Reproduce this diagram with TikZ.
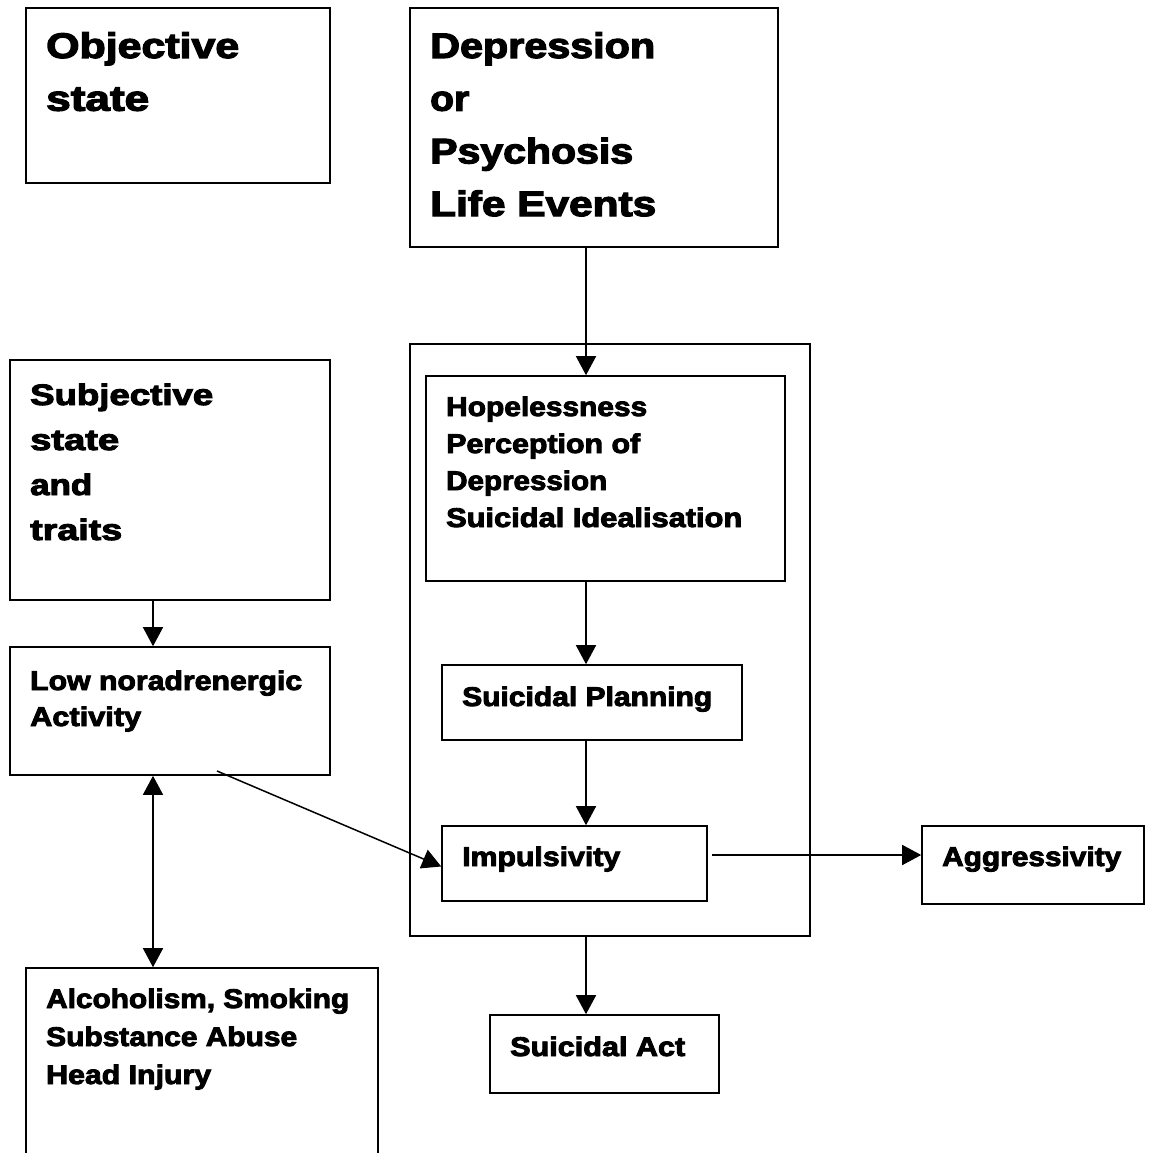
\documentclass[tikz,border=0pt]{standalone}
\usepackage{fontspec}
\usepackage{graphicx}
\newfontfamily\blk{Liberation Sans Bold}[FakeBold=3.2]
\usetikzlibrary{arrows.meta,calc}
\newcommand\fw[2]{\hbox{\resizebox{#1pt}{\height}{#2}}}
\begin{document}
\begin{tikzpicture}[x=1pt,y=-1pt,
  box/.style={draw,line width=1.6pt,rectangle,inner sep=0pt},
  txt/.style={inner sep=0pt,anchor=base west,align=left},
  big/.style={font=\blk\fontsize{35.5}{52.7}\selectfont},
  mid/.style={font=\blk\fontsize{29.5}{45}\selectfont},
  sml/.style={font=\blk\fontsize{27}{37}\selectfont},
  arr/.style={line width=1.5pt,-{Triangle[length=19pt,width=20pt]}},
  darr/.style={line width=1.5pt,{Triangle[length=19pt,width=20pt]}-{Triangle[length=19pt,width=20pt]}}]
\useasboundingbox (0,0) rectangle (1150,1153);
\fill[white] (0,0) rectangle (1150,1153);
% boxes
\node[box,minimum width=304pt,minimum height=175pt] (obj) at (178,95.5) {};
\node[box,minimum width=368pt,minimum height=239pt] (dep) at (594,127.5) {};
\node[box,minimum width=400pt,minimum height=592pt] (outer) at (610,640) {};
\node[box,minimum width=359pt,minimum height=205pt] (hope) at (605.5,478.5) {};
\node[box,minimum width=320pt,minimum height=240pt] (subj) at (170,480) {};
\node[box,minimum width=320pt,minimum height=128pt] (low) at (170,711) {};
\node[box,minimum width=300pt,minimum height=75pt] (plan) at (592,702.5) {};
\node[box,minimum width=265pt,minimum height=75pt] (imp) at (574.5,863.5) {};
\node[box,minimum width=222pt,minimum height=78pt] (agg) at (1033,865) {};
\node[box,minimum width=229pt,minimum height=78pt] (act) at (604.5,1054) {};
\node[box,minimum width=352pt,minimum height=200pt] (alc) at (202,1068) {};
% texts
\node[txt,big] (objT) at (46,58) {\vtop{\baselineskip=52.7pt \fw{193}{Objective}\fw{103}{state}}};
\node[txt,big] (depT) at (430,58) {\vtop{\baselineskip=52.7pt \fw{225}{Depression}\fw{39}{or}\fw{203}{Psychosis}\fw{226}{Life Events}}};
\node[txt,mid] (subjT) at (30,405) {\vtop{\baselineskip=45pt \fw{183}{Subjective}\fw{89}{state}\fw{62}{and}\fw{92}{traits}}};
\node[txt,sml] (hopeT) at (446,416) {\vtop{\baselineskip=37pt \fw{201}{Hopelessness}\fw{194}{Perception of}\fw{161}{Depression}\fw{296}{Suicidal Idealisation}}};
\node[txt,sml] (lowT) at (30,690) {\vtop{\baselineskip=36pt \fw{272}{Low noradrenergic}\fw{111}{Activity}}};
\node[txt,sml] (planT) at (462,706) {\fw{250}{Suicidal Planning}};
\node[txt,sml] (impT) at (462,866) {\fw{158}{Impulsivity}};
\node[txt,sml] (aggT) at (942,866) {\fw{179}{Aggressivity}};
\node[txt,sml] (actT) at (510,1056) {\fw{175}{Suicidal Act}};
\node[txt,sml] (alcT) at (46,1008) {\vtop{\baselineskip=38pt \fw{303}{Alcoholism, Smoking}\fw{251}{Substance Abuse}\fw{165}{Head Injury}}};
% connectors
\coordinate (X) at (586,0);
\coordinate (L) at (153,0);
\coordinate (dstart) at (217,771);
\coordinate (istart) at (712,855);
\draw[arr] (dep.south -| X) -- (hope.north -| X);
\draw[arr] (hope.south -| X) -- (plan.north -| X);
\draw[arr] (plan.south -| X) -- (imp.north -| X);
\draw[arr] (outer.south -| X) -- (act.north -| X);
\draw[arr] (subj.south -| L) -- (low.north -| L);
\draw[darr] (low.south -| L) -- (alc.north -| L);
\draw[arr] (dstart) -- ($(imp.west)+(0,3)$);
\draw[arr] (istart) -- (agg.west |- istart);
\end{tikzpicture}
\end{document}
